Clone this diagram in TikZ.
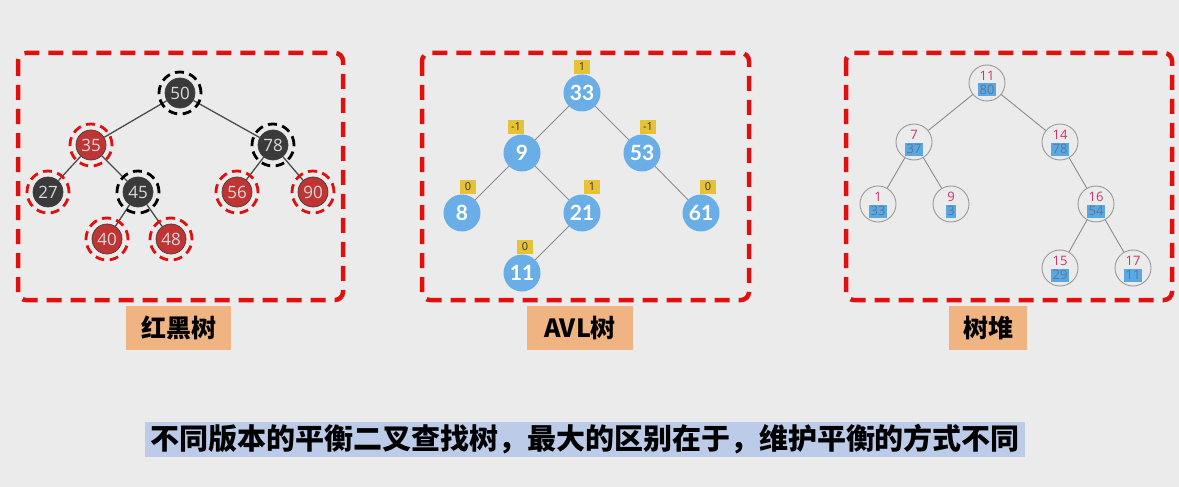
\documentclass[tikz,border=0pt]{standalone}
\usepackage{fontspec}
\setmainfont{Open Sans}
\newfontfamily\cjk{Noto Sans CJK SC}
\newfontfamily\latofont{Lato}
\definecolor{bg}{HTML}{EBEBEB}
\definecolor{framered}{HTML}{E0100F}
\definecolor{tagorange}{HTML}{F0B482}
\definecolor{rbblack}{HTML}{3A3A3A}
\definecolor{rbred}{HTML}{C03434}
\definecolor{avlblue}{HTML}{6AAEE8}
\definecolor{balyellow}{HTML}{E8C236}
\definecolor{prio}{HTML}{D2306C}
\definecolor{keyblue}{HTML}{5AA8E3}
\definecolor{keytext}{HTML}{557A95}
\definecolor{capblue}{HTML}{BCCBE8}
\begin{document}
\begin{tikzpicture}[x=1pt,y=-1pt,
  frame/.style={draw=framered, line width=4.5pt, dash pattern=on 15pt off 9pt, rounded corners=8pt},
  tag/.style={fill=tagorange, font=\cjk\bfseries\fontsize{25}{25}\selectfont, minimum height=44pt, inner sep=0pt},
  rbnode/.style={circle, minimum size=30pt, inner sep=0pt, draw=black!75, line width=0.7pt, text=white!85!black, font=\fontsize{17}{17}\selectfont},
  rbb/.style={rbnode, fill=rbblack},
  rbr/.style={rbnode, fill=rbred},
  ringb/.style={draw=black, line width=2.8pt, dash pattern=on 9pt off 5.5pt},
  ringr/.style={draw=framered, line width=2.8pt, dash pattern=on 9pt off 5.5pt},
  rbedge/.style={draw=black!70, line width=1.3pt},
  avl/.style={circle, fill=avlblue, minimum size=37pt, inner sep=0pt, text=white, font=\latofont\bfseries\fontsize{21}{21}\selectfont},
  bal/.style={fill=balyellow, text=black!80, inner sep=0pt, minimum width=16pt, minimum height=14pt, font=\fontsize{11}{11}\selectfont},
  avledge/.style={draw=black!45, line width=0.9pt},
  tnode/.style={circle, draw=black!40, line width=0.9pt, minimum size=36pt, inner sep=0pt},
  pri/.style={text=prio, inner sep=0pt, font=\fontsize{13}{13}\selectfont},
  key/.style={fill=keyblue, text=keytext, inner sep=0pt, minimum height=13pt, minimum width=18pt, font=\fontsize{13}{13}\selectfont},
  tedge/.style={draw=black!45, line width=0.9pt}
]
\fill[bg] (0,0) rectangle (1179,487);
\useasboundingbox (0,0) rectangle (1179,487);

% frames
\draw[frame] (18,53) rectangle (343,300);
\draw[frame] (422,53) rectangle (749,300);
\draw[frame] (846,53) rectangle (1172,300);

% tags
\node[tag, minimum width=105pt] (t1) at (178.5,328) {红黑树};
\node[tag, minimum width=106pt] (t2) at (580,328) {AVL树};
\node[tag, minimum width=78pt] (t3) at (988,328) {树堆};

% red-black tree
\node[rbb] (r50) at (180,93) {50};
\node[rbr] (r35) at (91,145) {35};
\node[rbb] (r78) at (273,145) {78};
\node[rbb] (r27) at (48,192) {27};
\node[rbb] (r45) at (138,192) {45};
\node[rbr] (r56) at (237,192) {56};
\node[rbr] (r90) at (313,192) {90};
\node[rbr] (r40) at (107,239) {40};
\node[rbr] (r48) at (171,239) {48};
\foreach \a/\b in {r50/r35,r50/r78,r35/r27,r35/r45,r45/r40,r45/r48,r78/r56,r78/r90}
  \draw[rbedge] (\a) -- (\b);
\foreach \n in {r50,r78,r45} \draw[ringb] (\n.center) circle (21pt);
\foreach \n in {r35,r27,r56,r90,r40,r48} \draw[ringr] (\n.center) circle (21pt);

% AVL tree
\node[avl] (a33) at (582,93) {33};
\node[avl] (a9) at (522,153) {9};
\node[avl] (a53) at (642,153) {53};
\node[avl] (a8) at (462,213) {8};
\node[avl] (a21) at (582,213) {21};
\node[avl] (a61) at (701,213) {61};
\node[avl] (a11) at (522,273) {11};
\foreach \a/\b in {a33/a9,a33/a53,a9/a8,a9/a21,a53/a61,a21/a11}
  \draw[avledge] (\a) -- (\b);
\node[bal] (b33) at (582,67) {1};
\node[bal] (b9) at (516,127) {-1};
\node[bal] (b53) at (648,127) {-1};
\node[bal] (b8) at (468,187) {0};
\node[bal] (b21) at (592,187) {1};
\node[bal] (b61) at (708,187) {0};
\node[bal] (b11) at (525,247) {0};

% treap
\node[tnode] (h11) at (987,83) {};
\node[tnode] (h7) at (914,142) {};
\node[tnode] (h14) at (1060,142) {};
\node[tnode] (h1) at (878,204) {};
\node[tnode] (h9) at (951,204) {};
\node[tnode] (h16) at (1096,204) {};
\node[tnode] (h15) at (1060,268) {};
\node[tnode] (h17) at (1133,268) {};
\foreach \a/\b in {h11/h7,h11/h14,h7/h1,h7/h9,h14/h16,h16/h15,h16/h17}
  \draw[tedge] (\a) -- (\b);
\foreach \n/\p/\k/\w in {h11/11/80/18,h7/7/37/18,h14/14/78/18,h1/1/33/18,h9/9/3/10,h16/16/54/18,h15/15/29/18,h17/17/11/18}{
  \node[pri] (\n p) at ([yshift=7pt]\n.center) {\p};
  \node[key, minimum width=\w pt] (\n k) at ([yshift=-7pt]\n.center) {\k};
}

% caption
\node[fill=capblue, minimum width=880pt, minimum height=35pt, inner sep=0pt,
  font=\cjk\bfseries\fontsize{29}{29}\selectfont] (cap) at (585,439)
  {不同版本的平衡二叉查找树，最大的区别在于，维护平衡的方式不同};
\end{tikzpicture}
\end{document}
